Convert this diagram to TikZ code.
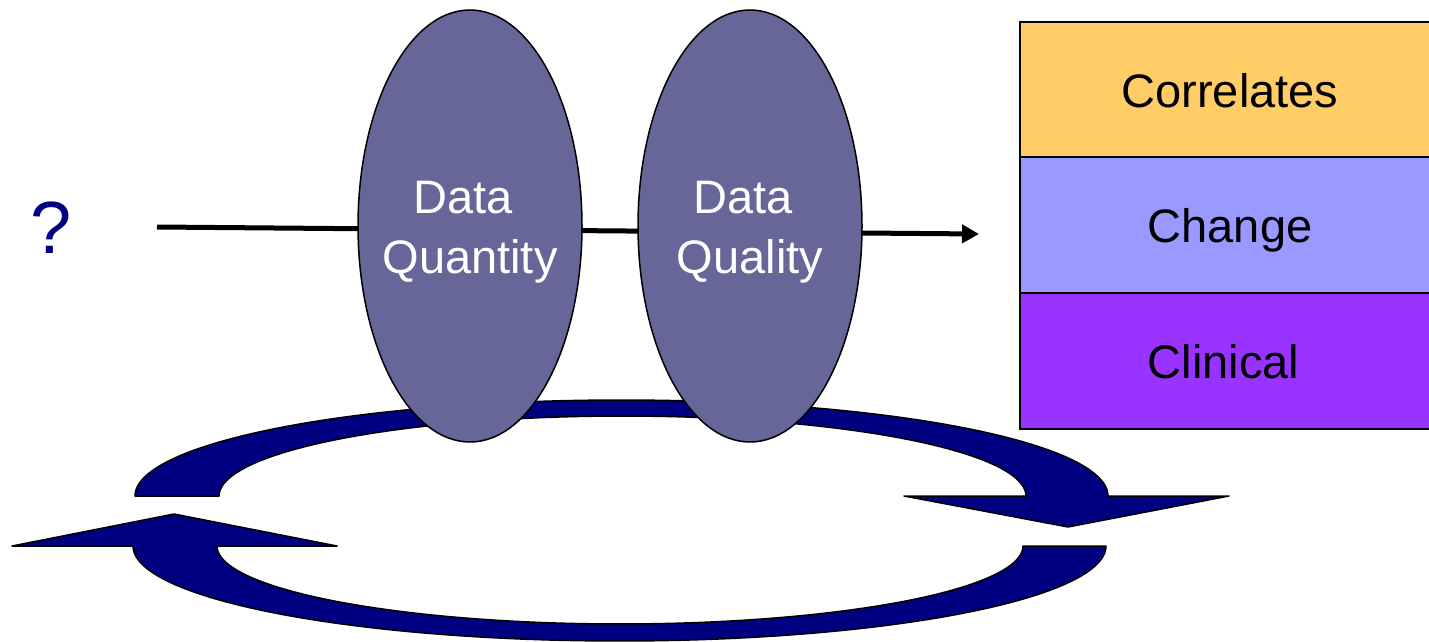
\documentclass[tikz,border=0pt]{standalone}
\usepackage{fontspec}
\setmainfont{Liberation Sans}
\usetikzlibrary{shapes.geometric,arrows.meta}
\definecolor{ellgray}{HTML}{666699}
\definecolor{navyblue}{HTML}{000080}
\definecolor{boxorange}{HTML}{FFCC66}
\definecolor{boxlav}{HTML}{9999FF}
\definecolor{boxpurple}{HTML}{9933FF}
\begin{document}
\begin{tikzpicture}[x=1pt,y=-1pt,
  ellshape/.style={ellipse, draw=black, line width=1.5pt, fill=ellgray, minimum width=224pt, minimum height=432pt, inner sep=0pt},
  elltext/.style={text=white, font=\fontsize{47}{60}\selectfont, align=center, text depth=0pt, inner sep=0pt},
  cyclearrow/.style={fill=navyblue, draw=black, line width=1.5pt, line join=round},
  layerbox/.style={rectangle, draw=black, line width=2pt, minimum width=420pt, minimum height=136pt, font=\fontsize{47}{56}\selectfont, text depth=0pt, inner sep=0pt},
  flow/.style={line width=5pt, -{Triangle[length=17pt,width=18pt]}}
]
\useasboundingbox (0,0) rectangle (1429,642);
\clip (0,0) rectangle (1429,642);
% upper circular arrow (behind ellipses)
\path[cyclearrow] plot[domain=180:0,samples=90] ({621.5+486.5*cos(\x)},{496-96*sin(\x)})
  -- (1229,496) -- (1068,527) -- (904,496)
  -- plot[domain=0:180,samples=90] ({622.5+403.5*cos(\x)},{496-80*sin(\x)}) -- cycle;
% lower circular arrow
\path[cyclearrow] plot[domain=0:180,samples=90] ({619.5+486.5*cos(\x)},{546+95*sin(\x)})
  -- (12,546) -- (174,514) -- (337,546)
  -- plot[domain=180:0,samples=90] ({620+403*cos(\x)},{546+78*sin(\x)}) -- cycle;
% question mark
\node[text=navyblue, font=\fontsize{74}{80}\selectfont, inner sep=0pt, anchor=base] (quest) at (51,253) {?};
% flow line
\coordinate (fstart) at (157,227);
\coordinate (fend) at (979,234);
\draw[flow] (fstart) -- (fend);
% ellipses
\node[ellshape] (quant) at (470,226) {};
\node[ellshape] (qual) at (750,226) {};
\node[elltext] (quanttext) at (470,227.5) {Data\kern0.278em\\Quantity};
\node[elltext] (qualtext) at (750,227.5) {Data\kern0.278em\\Quality};
% boxes
\node[layerbox, fill=boxorange] (corr) at (1230,90) {Correlates};
\node[layerbox, fill=boxlav] (chg) at (1230,225) {Change};
\node[layerbox, fill=boxpurple] (clin) at (1230,361) {Clinical\kern0.278em};
\end{tikzpicture}
\end{document}
